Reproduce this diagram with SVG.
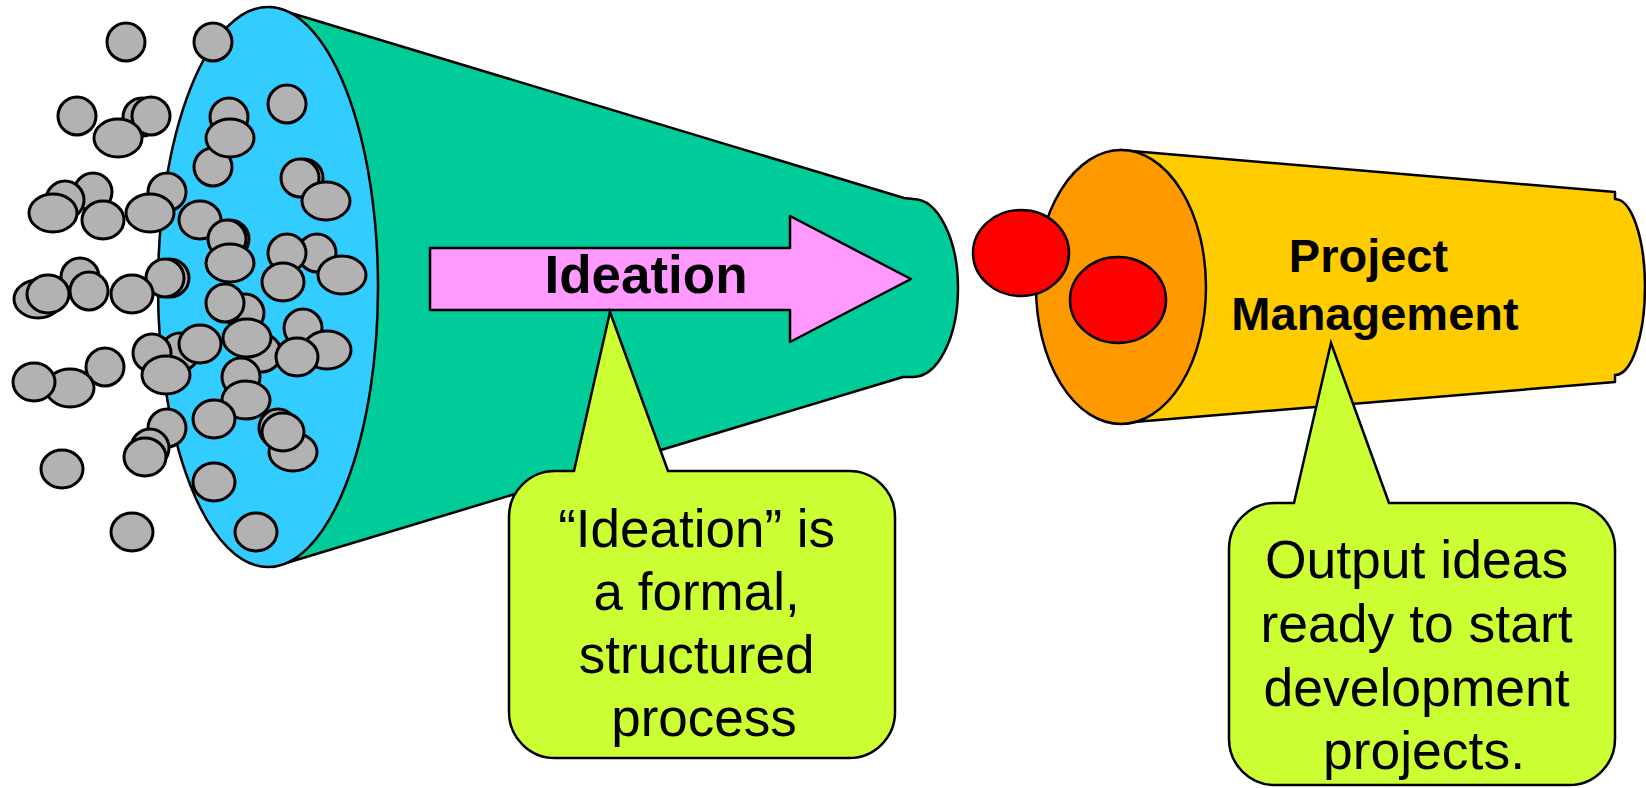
<svg xmlns="http://www.w3.org/2000/svg" width="1646" height="788" viewBox="0 0 1646 788">
  <style>
    .outline { stroke: #000; stroke-width: 2.5; stroke-linejoin: round; }
    .ball { fill: #B2B2B2; stroke: #000; stroke-width: 3; }
    .red { fill: #FF0000; stroke: #000; stroke-width: 2.5; }
    .callout { fill: #CCFF33; stroke: #000; stroke-width: 2.5; stroke-linejoin: miter; }
    .label-bold { font-family: "Liberation Sans", Arial, sans-serif; font-weight: bold; fill: #000; text-anchor: middle; }
    .label { font-family: "Liberation Sans", Arial, sans-serif; fill: #000; text-anchor: middle; }
  </style>
  <rect width="1646" height="788" fill="#FFFFFF"/>

  <!-- Ideation funnel: green cone with blue mouth -->
  <g id="ideation-funnel">
    <path class="outline" fill="#00CC99" d="M 271,7 L 904,198 L 913,199 A 45 89 0 0 1 913,377 L 903,377 L 273,567 Z"/>
    <ellipse class="outline" fill="#33CCFF" cx="268" cy="287" rx="110" ry="280"/>
  </g>

  <!-- Ideas entering the funnel -->
  <g id="ideas">
    <ellipse class="ball" cx="126" cy="42" rx="19" ry="19"/>
    <ellipse class="ball" cx="213" cy="42" rx="19" ry="19"/>
    <ellipse class="ball" cx="287" cy="104" rx="19" ry="19"/>
    <ellipse class="ball" cx="77" cy="116" rx="19" ry="19"/>
    <ellipse class="ball" cx="142" cy="117" rx="19" ry="19"/>
    <ellipse class="ball" cx="151" cy="116" rx="19" ry="19"/>
    <ellipse class="ball" cx="118" cy="138" rx="24" ry="19"/>
    <ellipse class="ball" cx="229" cy="117" rx="19" ry="19"/>
    <ellipse class="ball" cx="213" cy="167" rx="19" ry="19"/>
    <ellipse class="ball" cx="230" cy="138" rx="24" ry="19"/>
    <ellipse class="ball" cx="304" cy="178" rx="19" ry="19"/>
    <ellipse class="ball" cx="300" cy="178" rx="19" ry="19"/>
    <ellipse class="ball" cx="326" cy="201" rx="24" ry="19"/>
    <ellipse class="ball" cx="93" cy="192" rx="19" ry="19"/>
    <ellipse class="ball" cx="65" cy="200" rx="19" ry="19"/>
    <ellipse class="ball" cx="53" cy="213" rx="24" ry="19"/>
    <ellipse class="ball" cx="103" cy="220" rx="21" ry="19"/>
    <ellipse class="ball" cx="167" cy="192" rx="19" ry="19"/>
    <ellipse class="ball" cx="150" cy="213" rx="24" ry="19"/>
    <ellipse class="ball" cx="200" cy="220" rx="21" ry="19"/>
    <ellipse class="ball" cx="230" cy="239" rx="19" ry="19"/>
    <ellipse class="ball" cx="227" cy="239" rx="19" ry="19"/>
    <ellipse class="ball" cx="230" cy="263" rx="24" ry="19"/>
    <ellipse class="ball" cx="317" cy="253" rx="19" ry="19"/>
    <ellipse class="ball" cx="287" cy="253" rx="19" ry="19"/>
    <ellipse class="ball" cx="342" cy="275" rx="24" ry="19"/>
    <ellipse class="ball" cx="283" cy="282" rx="21" ry="19"/>
    <ellipse class="ball" cx="80" cy="277" rx="19" ry="19"/>
    <ellipse class="ball" cx="38" cy="299" rx="24" ry="19"/>
    <ellipse class="ball" cx="48" cy="294" rx="21" ry="19"/>
    <ellipse class="ball" cx="89" cy="291" rx="19" ry="19"/>
    <ellipse class="ball" cx="170" cy="278" rx="19" ry="19"/>
    <ellipse class="ball" cx="165" cy="278" rx="19" ry="19"/>
    <ellipse class="ball" cx="132" cy="294" rx="21" ry="19"/>
    <ellipse class="ball" cx="245" cy="313" rx="19" ry="19"/>
    <ellipse class="ball" cx="225" cy="303" rx="19" ry="19"/>
    <ellipse class="ball" cx="303" cy="328" rx="19" ry="19"/>
    <ellipse class="ball" cx="327" cy="350" rx="24" ry="19"/>
    <ellipse class="ball" cx="262" cy="353" rx="19" ry="19"/>
    <ellipse class="ball" cx="247" cy="338" rx="24" ry="19"/>
    <ellipse class="ball" cx="297" cy="357" rx="21" ry="19"/>
    <ellipse class="ball" cx="180" cy="352" rx="19" ry="19"/>
    <ellipse class="ball" cx="152" cy="353" rx="19" ry="19"/>
    <ellipse class="ball" cx="200" cy="344" rx="21" ry="19"/>
    <ellipse class="ball" cx="166" cy="375" rx="24" ry="19"/>
    <ellipse class="ball" cx="241" cy="377" rx="19" ry="19"/>
    <ellipse class="ball" cx="246" cy="400" rx="24" ry="19"/>
    <ellipse class="ball" cx="105" cy="367" rx="19" ry="19"/>
    <ellipse class="ball" cx="70" cy="388" rx="24" ry="19"/>
    <ellipse class="ball" cx="34" cy="382" rx="21" ry="19"/>
    <ellipse class="ball" cx="214" cy="419" rx="21" ry="19"/>
    <ellipse class="ball" cx="167" cy="428" rx="19" ry="19"/>
    <ellipse class="ball" cx="293" cy="452" rx="24" ry="19"/>
    <ellipse class="ball" cx="278" cy="428" rx="19" ry="19"/>
    <ellipse class="ball" cx="283" cy="432" rx="21" ry="19"/>
    <ellipse class="ball" cx="150" cy="448" rx="19" ry="19"/>
    <ellipse class="ball" cx="145" cy="457" rx="21" ry="19"/>
    <ellipse class="ball" cx="62" cy="469" rx="21" ry="19"/>
    <ellipse class="ball" cx="214" cy="482" rx="21" ry="19"/>
    <ellipse class="ball" cx="132" cy="532" rx="21" ry="19"/>
    <ellipse class="ball" cx="256" cy="532" rx="21" ry="19"/>
  </g>

  <!-- Ideation process arrow -->
  <g id="ideation-arrow">
    <polygon class="outline" fill="#FF99FF" points="430,248 790,248 790,216 911,279 790,342 790,310 430,310"/>
    <text class="label-bold" x="646" y="293" font-size="53">Ideation</text>
  </g>

  <!-- Project management cylinder -->
  <g id="project-management">
    <path class="outline" fill="#FFCC00" d="M 1120,150 L 1615,192 L 1615,199 A 30 88 0 0 1 1615,375 L 1615,382 L 1122,423 Z"/>
    <ellipse class="outline" fill="#FF9900" cx="1121" cy="287" rx="85" ry="137"/>
    <text class="label-bold" font-size="47">
      <tspan x="1375" y="272">Project</tspan>
      <tspan x="1375" y="330">Management</tspan>
    </text>
  </g>

  <!-- Output ideas -->
  <g id="output-ideas">
    <ellipse class="red" cx="1021" cy="253" rx="48" ry="43"/>
    <ellipse class="red" cx="1118" cy="300" rx="48" ry="43"/>
  </g>

  <!-- Callout: ideation note -->
  <g id="callout-ideation">
    <path class="callout" d="M 555,471 L 574,471 L 610,312 L 668,471 L 849,471 A 46 46 0 0 1 895,517 L 895,712 A 46 46 0 0 1 849,758 L 555,758 A 46 46 0 0 1 509,712 L 509,517 A 46 46 0 0 1 555,471 Z"/>
    <text class="label" font-size="53">
      <tspan x="704" y="547">“Ideation” is</tspan>
      <tspan x="704" y="610">a formal,</tspan>
      <tspan x="704" y="673">structured</tspan>
      <tspan x="704" y="736">process</tspan>
    </text>
  </g>

  <!-- Callout: output note -->
  <g id="callout-output">
    <path class="callout" d="M 1275,503 L 1294,503 L 1331,343 L 1389,503 L 1569,503 A 46 46 0 0 1 1615,549 L 1615,739 A 46 46 0 0 1 1569,785 L 1275,785 A 46 46 0 0 1 1229,739 L 1229,549 A 46 46 0 0 1 1275,503 Z"/>
    <text class="label" font-size="53.5">
      <tspan x="1424" y="578">Output ideas</tspan>
      <tspan x="1424" y="642">ready to start</tspan>
      <tspan x="1424" y="706">development</tspan>
      <tspan x="1424" y="769">projects.</tspan>
    </text>
  </g>
</svg>
